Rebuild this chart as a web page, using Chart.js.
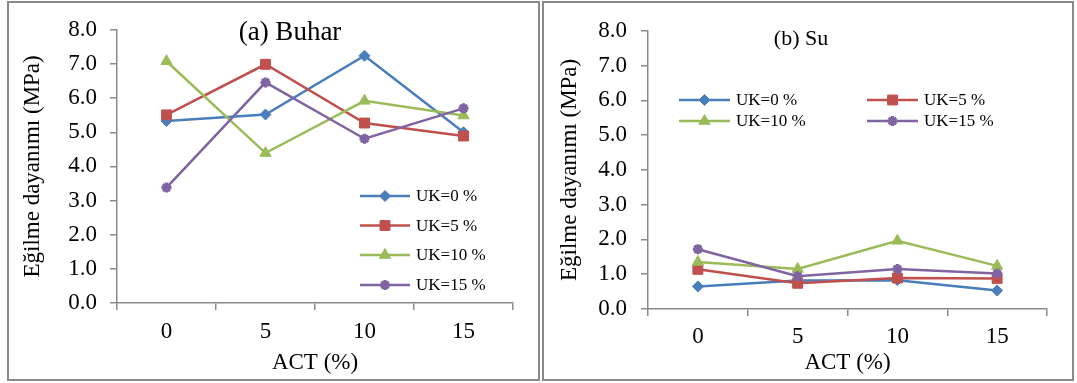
<!DOCTYPE html>
<html>
<head>
<meta charset="utf-8">
<script src="https://cdn.jsdelivr.net/npm/chart.js@4.4.1/dist/chart.umd.min.js"></script>
<style>
  body { margin: 0; background: #fff; width: 1077px; height: 383px; position: relative; overflow: hidden; }
  .panel { position: absolute; box-sizing: border-box; border: 2px solid #8a8a8a; background: #fff; }
  canvas { position: absolute; }
</style>
</head>
<body>
<div class="panel" style="left:7px;top:1px;width:533px;height:380px"></div>
<div class="panel" style="left:542px;top:1px;width:532px;height:380px"></div>
<canvas id="chartBuhar" width="529" height="376" style="left:9px;top:3px"></canvas>
<canvas id="chartSu" width="526" height="376" style="left:545px;top:3px"></canvas>
<script>
// ACT (%) kategorileri
const categories = ['0', '5', '10', '15'];
const seriesNames = ['UK=0 %', 'UK=5 %', 'UK=10 %', 'UK=15 %'];

// (a) Buhar - eğilme dayanımı (MPa)
const buharUK0 = [5.33, 5.52, 7.24, 5.00];
const buharUK5 = [5.51, 6.99, 5.27, 4.89];
const buharUK10 = [7.08, 4.39, 5.92, 5.49];
const buharUK15 = [3.38, 6.46, 4.81, 5.70];

// (b) Su - eğilme dayanımı (MPa)
const suUK0 = [0.65, 0.82, 0.83, 0.53];
const suUK5 = [1.14, 0.74, 0.89, 0.88];
const suUK10 = [1.35, 1.15, 1.96, 1.24];
const suUK15 = [1.72, 0.94, 1.15, 1.02];

const yMin = 0, yMax = 8, yStep = 1;

const colors = ['#4a7ebb', '#c0504d', '#9bbb59', '#8064a2'];
const styles = ['rectRot', 'rect', 'triangle', 'star'];
const radii = [5.5, 7, 6.5, 5];

const FONT = 'Liberation Serif';
const AXIS = '#8a8a8a';

Chart.defaults.font.family = FONT;
Chart.defaults.color = '#000';

const overlay = {
    id: 'overlay',
    afterDraw(chart, args, opts) {
        const ctx = chart.ctx;
        ctx.save();
        ctx.fillStyle = '#000';
        ctx.textBaseline = 'middle';
        ctx.textAlign = 'center';
        ctx.font = opts.titleSize + 'px "' + FONT + '"';
        ctx.fillText(opts.title, opts.titleX, opts.titleY);
        ctx.textAlign = 'left';
        ctx.font = '17px "' + FONT + '"';
        chart.data.datasets.forEach((ds, i) => {
            const [x, y] = opts.legendPos[i];
            ctx.strokeStyle = ds.borderColor;
            ctx.lineWidth = ds.borderWidth;
            ctx.beginPath();
            ctx.moveTo(x, y);
            ctx.lineTo(x + opts.lineLen, y);
            ctx.stroke();
            ctx.fillStyle = ds.pointBackgroundColor;
            ctx.strokeStyle = ds.borderColor;
            ctx.lineWidth = ds.pointBorderWidth;
            Chart.helpers.drawPoint(ctx, { pointStyle: ds.pointStyle, radius: ds.pointRadius, borderWidth: ds.pointBorderWidth, rotation: 0 }, x + opts.lineLen / 2, y);
            ctx.fillStyle = '#000';
            ctx.fillText(ds.label, x + opts.lineLen + 6, y + 1);
        });
        ctx.restore();
    }
};

function makeChart(id, series, o) {
    const datasets = series.map((d, i) => ({
        label: seriesNames[i],
        data: d,
        borderColor: colors[i],
        backgroundColor: colors[i],
        pointBackgroundColor: colors[i],
        pointStyle: styles[i],
        pointRadius: radii[i],
        pointBorderWidth: i === 3 ? 3 : 1,
        borderWidth: 2.5,
        tension: 0,
        order: 3 - i
    }));
    return new Chart(document.getElementById(id), {
        type: 'line',
        data: { labels: categories, datasets },
        plugins: [overlay],
        options: {
            responsive: false,
            animation: false,
            layout: { padding: { left: 0, top: o.top, right: o.right, bottom: 0 } },
            plugins: {
                legend: { display: false },
                tooltip: { enabled: false },
                overlay: o.overlay
            },
            scales: {
                x: {
                    offset: true,
                    grid: { offset: true, drawOnChartArea: false, drawTicks: true, tickLength: 7, color: AXIS, lineWidth: 1.5 },
                    border: { display: true, color: AXIS, width: 1.5 },
                    ticks: { color: '#000', font: { family: FONT, size: 23 }, padding: o.xTickPad, maxRotation: 0 },
                    title: { display: true, text: 'ACT (%)', color: '#000', font: { family: FONT, size: 23 }, padding: { top: 0, bottom: 2 } },
                    afterFit: s => { s.height = o.xHeight; }
                },
                y: {
                    min: yMin, max: yMax,
                    grid: { drawOnChartArea: false, drawTicks: true, tickLength: 7, color: AXIS, lineWidth: 1.5 },
                    border: { display: true, color: AXIS, width: 1.5 },
                    ticks: { stepSize: yStep, color: '#000', font: { family: FONT, size: 23 }, padding: o.yTickPad, callback: v => Number(v).toFixed(1) },
                    title: { display: true, text: 'Eğilme dayanımı (MPa)', color: '#000', font: { family: FONT, size: 23 }, padding: { top: o.yTitlePad, bottom: 0 } },
                    afterFit: s => { s.width = o.yWidth; }
                }
            }
        }
    });
}

makeChart('chartBuhar', [buharUK0, buharUK5, buharUK10, buharUK15], {
    top: 18, right: 25, xHeight: 76, yWidth: 108, xTickPad: 8, yTickPad: 13, yTitlePad: 10,
    overlay: {
        title: '(a) Buhar', titleSize: 27, titleX: 281, titleY: 30,
        lineLen: 50,
        legendPos: [[351, 193], [351, 222.5], [351, 252], [351, 282]]
    }
});

makeChart('chartSu', [suUK0, suUK5, suUK10, suUK15], {
    top: 24, right: 24, xHeight: 70, yWidth: 103, xTickPad: 7, yTickPad: 14, yTitlePad: 11,
    overlay: {
        title: '(b) Su', titleSize: 22, titleX: 256, titleY: 36,
        lineLen: 51,
        legendPos: [[134, 97], [322, 97], [134, 118], [322, 118]]
    }
});
</script>
</body>
</html>
